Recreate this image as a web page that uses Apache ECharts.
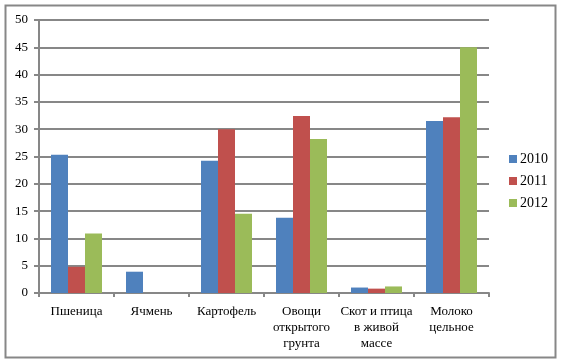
<!DOCTYPE html>
<html><head><meta charset="utf-8">
<script src="https://cdn.jsdelivr.net/npm/echarts@6/dist/echarts.min.js"></script>
<style>html,body{margin:0;padding:0;background:#fff}#c{width:564px;height:361px}</style>
</head><body><div id="c"></div>
<script>
const categories = ['Пшеница', 'Ячмень', 'Картофель', 'Овощи\nоткрытого\nгрунта', 'Скот и птица\nв живой\nмассе', 'Молоко\nцельное'];
const seriesNames = ['2010', '2011', '2012'];
const v2010 = [25.3, 3.9, 24.2, 13.8, 1.0, 31.5];
const v2011 = [4.8, 0, 30.0, 32.4, 0.8, 32.2];
const v2012 = [10.9, 0, 14.5, 28.2, 1.2, 45.0];
const colors = ['#4F81BD', '#C0504D', '#9BBB59'];
const font = '"Liberation Serif", "Times New Roman", serif';
const chart = echarts.init(document.getElementById('c'));
const data = [v2010, v2011, v2012];
chart.setOption({
  animation: false,
  textStyle: {fontFamily: font},
  graphic: [{type: 'rect', shape: {x: 5.5, y: 5.5, width: 550, height: 352}, style: {fill: 'none', stroke: '#878787', lineWidth: 2}, z: -1}],
  grid: {left: 39, right: 75, top: 20, bottom: 68},
  legend: {
    orient: 'vertical', left: 504, top: 147, itemWidth: 8, itemHeight: 8, itemGap: 8,
    textStyle: {fontFamily: font, fontSize: 14, color: '#000', padding: [0,0,0,-2]},
    data: seriesNames.map((n,i)=>({name:n, icon:'rect'}))
  },
  xAxis: {
    type: 'category', data: categories,
    axisLine: {lineStyle: {color: '#878787', width: 2}},
    axisTick: {show: true, length: 4, lineStyle: {color: '#878787', width: 2}},
    axisLabel: {fontFamily: font, fontSize: 13, color: '#000', margin: 11, lineHeight: 16, interval: 0}
  },
  yAxis: {
    type: 'value', min: 0, max: 50, interval: 5,
    axisLine: {show: true, lineStyle: {color: '#878787', width: 2}},
    axisTick: {show: true, length: 5, lineStyle: {color: '#878787', width: 2}},
    splitLine: {lineStyle: {color: '#878787', width: 2}},
    axisLabel: {fontFamily: font, fontSize: 13, color: '#000', margin: 11}
  },
  series: seriesNames.map((n,i)=>({
    name: n, type: 'bar', data: data[i], barGap: '0%', barCategoryGap: '32%',
    itemStyle: {color: colors[i]}
  })),
  color: colors
});
</script></body></html>
